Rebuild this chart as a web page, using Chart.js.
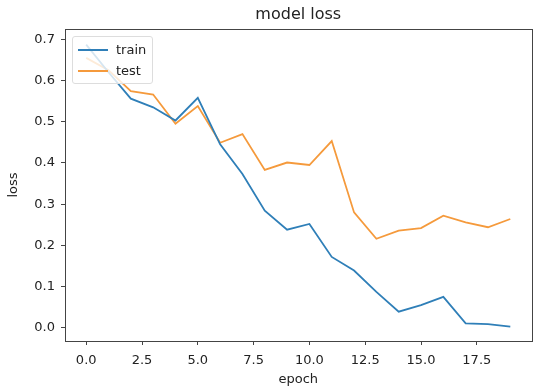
<!DOCTYPE html>
<html>
<head>
<meta charset="utf-8">
<script src="https://cdn.jsdelivr.net/npm/chart.js@4.4.0/dist/chart.umd.min.js"></script>
<style>
    html, body { margin: 0; padding: 0; background: #fff; }
    #wrap { position: relative; width: 540px; height: 387px; }
    #legend {
        position: absolute; left: 72px; top: 36px; width: 79px; height: 46px;
        background: rgba(255,255,255,0.8); border: 1px solid #ddd; border-radius: 3px;
        font-family: "DejaVu Sans", sans-serif; font-size: 13px; color: #222;
    }
    .item { position: absolute; left: 5px; height: 20px; line-height: 20px; }
    .item i { position: absolute; left: 0; top: 9px; width: 30px; height: 2px; }
    .item span { position: absolute; left: 38px; }
</style>
</head>
<body>
<div id="wrap">
    <canvas id="c" width="540" height="387"></canvas>
    <div id="legend">
        <div class="item" style="top:3px"><i style="background:#2f7fb8"></i><span>train</span></div>
        <div class="item" style="top:24px"><i style="background:#f59a3c"></i><span>test</span></div>
    </div>
</div>
<script>
// ---- data ----
const epochs = [0, 1, 2, 3, 4, 5, 6, 7, 8, 9, 10, 11, 12, 13, 14, 15, 16, 17, 18, 19];
const trainLoss = [0.687, 0.62, 0.556, 0.535, 0.503, 0.558, 0.445, 0.373, 0.284, 0.238, 0.252, 0.172, 0.139, 0.087, 0.039, 0.055, 0.075, 0.011, 0.009, 0.003];
const testLoss = [0.655, 0.625, 0.574, 0.566, 0.495, 0.538, 0.449, 0.47, 0.383, 0.401, 0.395, 0.453, 0.28, 0.216, 0.236, 0.242, 0.272, 0.256, 0.244, 0.264];
const xTicks = [0, 2.5, 5, 7.5, 10, 12.5, 15, 17.5];
const yTicks = [0, 0.1, 0.2, 0.3, 0.4, 0.5, 0.6, 0.7];

const FONT = '"DejaVu Sans", sans-serif';
const AXIS = '#444';

// matplotlib style frame round the axes
const frame = {
    id: 'frame',
    afterDatasetsDraw(chart) {
        const a = chart.chartArea, ctx = chart.ctx;
        ctx.save();
        ctx.strokeStyle = AXIS;
        ctx.lineWidth = 1;
        ctx.strokeRect(Math.round(a.left) + 0.5, Math.round(a.top) + 0.5,
            Math.round(a.right - a.left), Math.round(a.bottom - a.top));
        ctx.restore();
    }
};

const toPoints = arr => arr.map((v, i) => ({ x: epochs[i], y: v }));

new Chart(document.getElementById('c'), {
    type: 'line',
    data: {
        datasets: [
            { label: 'train', data: toPoints(trainLoss), borderColor: '#2f7fb8', borderWidth: 1.8, pointRadius: 0, tension: 0 },
            { label: 'test', data: toPoints(testLoss), borderColor: '#f59a3c', borderWidth: 1.8, pointRadius: 0, tension: 0 }
        ]
    },
    options: {
        responsive: false,
        animation: false,
        layout: { padding: { left: 0, right: 8.5, top: 0, bottom: 0 } },
        plugins: {
            legend: { display: false },
            tooltip: { enabled: false },
            title: {
                display: true, text: 'model loss', fullSize: false,
                color: '#222', font: { family: FONT, size: 16, weight: 'normal' },
                padding: { top: 5, bottom: 4.8 }
            }
        },
        scales: {
            x: {
                type: 'linear', min: -0.95, max: 19.95,
                afterFit: s => { s.height = 46; },
                afterBuildTicks: s => { s.ticks = xTicks.map(v => ({ value: v })); },
                grid: { drawOnChartArea: false, drawTicks: true, tickLength: 4, color: AXIS },
                border: { display: false },
                ticks: { color: '#222', font: { family: FONT, size: 13 }, padding: 8, maxRotation: 0,
                    callback: v => v.toFixed(1) },
                title: { display: true, text: 'epoch', color: '#222', font: { family: FONT, size: 13 }, padding: { top: 0, bottom: 0 } }
            },
            y: {
                min: -0.032, max: 0.725,
                afterFit: s => { s.width = 65; },
                afterBuildTicks: s => { s.ticks = yTicks.map(v => ({ value: v })); },
                grid: { drawOnChartArea: false, drawTicks: true, tickLength: 4, color: AXIS },
                border: { display: false },
                ticks: { color: '#222', font: { family: FONT, size: 13 }, padding: 6,
                    callback: v => v.toFixed(1) },
                title: { display: true, text: 'loss', color: '#222', font: { family: FONT, size: 13 }, padding: { top: 6, bottom: 0 } }
            }
        }
    },
    plugins: [frame]
});
</script>
</body>
</html>
